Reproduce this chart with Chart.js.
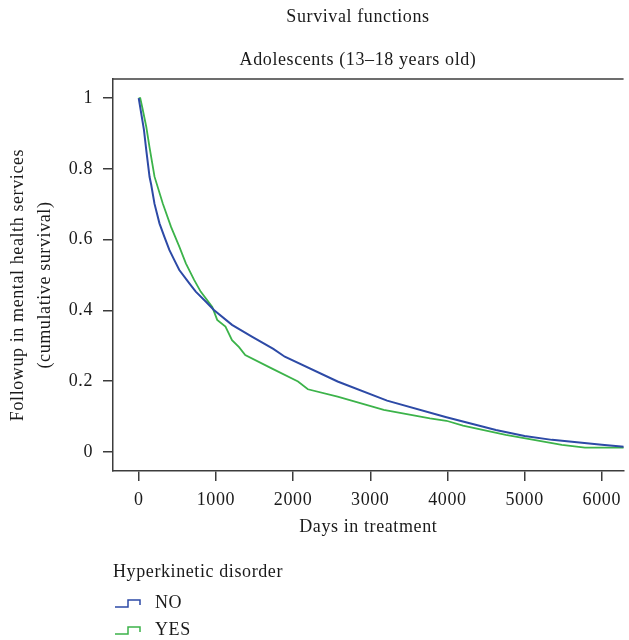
<!DOCTYPE html>
<html>
<head>
<meta charset="utf-8">
<script src="https://cdn.jsdelivr.net/npm/chart.js@4"></script>
<style>
    html, body { margin: 0; padding: 0; background: #fff; overflow: hidden; }
</style>
</head>
<body>
<canvas id="survival_chart" width="629" height="640"></canvas>
<script>
// Chart data
const noDays      = [0, 15, 68, 98, 141, 162, 205, 269, 333, 397, 462, 526, 654, 739, 868, 974, 1209, 1466, 1744, 1893, 2577, 3218, 3987, 4628, 5000, 5355, 6000, 6300];
const noSurvival  = [1.0, 0.98, 0.91, 0.853, 0.777, 0.755, 0.701, 0.646, 0.608, 0.571, 0.542, 0.514, 0.477, 0.453, 0.425, 0.401, 0.359, 0.326, 0.291, 0.269, 0.199, 0.145, 0.098, 0.062, 0.045, 0.034, 0.02, 0.014];

const yesDays     = [0, 20, 50, 98, 141, 205, 312, 419, 526, 611, 718, 803, 953, 1017, 1124, 1209, 1300, 1380, 1722, 2064, 2192, 2577, 3175, 3773, 3987, 4201, 4756, 5483, 5782, 6300];
const yesSurvival = [1.0, 1.0, 0.97, 0.919, 0.86, 0.778, 0.702, 0.636, 0.58, 0.533, 0.486, 0.453, 0.41, 0.373, 0.354, 0.316, 0.296, 0.274, 0.236, 0.199, 0.177, 0.156, 0.119, 0.095, 0.088, 0.074, 0.048, 0.02, 0.012, 0.012];

const groupLabels = ['NO', 'YES'];
const xTicks      = [0, 1000, 2000, 3000, 4000, 5000, 6000];
const yTicks      = [0, 0.2, 0.4, 0.6, 0.8, 1];

const chartTitle    = 'Survival functions';
const chartSubtitle = 'Adolescents (13\u201318 years old)';
const xTitle        = 'Days in treatment';
const yTitle        = ['Followup in mental health services', '(cumulative survival)'];
const legendTitle   = 'Hyperkinetic disorder';

// Styles
const blue      = '#2d4aa6';
const green     = '#3cb34a';
const axisColor = '#3c3c3c';
const textColor = '#1a1a1a';
const fontName  = '"Liberation Serif", "Times New Roman", serif';

const toPoints = ( days, values ) => days.map( ( d, i ) => ( { x: d, y: values[i] } ) );

// the original typeface runs a little wider than Liberation Serif
const spacingPlugin = {
    id: 'spacing',
    beforeLayout( chart ) { chart.ctx.letterSpacing = '0.6px'; },
    beforeDraw( chart ) { chart.ctx.letterSpacing = '0.6px'; }
};

// Titles, top edge of the box and the R-style legend
const annotationsPlugin = {
    id: 'annotations',
    afterDraw( chart ) {
        const ctx  = chart.ctx;
        const area = chart.chartArea;
        ctx.save();

        ctx.strokeStyle = axisColor;
        ctx.lineWidth   = 1.5;
        ctx.beginPath();
        ctx.moveTo( area.left, area.top );
        ctx.lineTo( area.right, area.top );
        ctx.stroke();

        ctx.fillStyle    = textColor;
        ctx.font         = '18px ' + fontName;
        ctx.textAlign    = 'center';
        ctx.textBaseline = 'middle';
        ctx.fillText( chartTitle, 358, 17 );
        ctx.fillText( chartSubtitle, 358, 60 );

        yTitle.forEach( ( line, i ) => {
            ctx.save();
            ctx.translate( 18 + i * 27, 285 );
            ctx.rotate( -Math.PI / 2 );
            ctx.fillText( line, 0, 0 );
            ctx.restore();
        });

        ctx.textAlign = 'left';
        ctx.fillText( legendTitle, 113, 572 );
        chart.data.datasets.forEach( ( ds, i ) => {
            const y = 603 + i * 27;
            ctx.strokeStyle = ds.borderColor;
            ctx.lineWidth   = 1.5;
            ctx.beginPath();
            ctx.moveTo( 115, y + 4 );
            ctx.lineTo( 128, y + 4 );
            ctx.lineTo( 128, y - 3 );
            ctx.lineTo( 140, y - 3 );
            ctx.lineTo( 140, y + 2 );
            ctx.stroke();
            ctx.fillText( ds.label, 155, y );
        });

        ctx.restore();
    }
};

const survivalData = {
    datasets: [{
        label: groupLabels[0],
        data: toPoints( noDays, noSurvival ),
        borderColor: blue,
        borderWidth: 2,
        pointRadius: 0,
        tension: 0
    }, {
        label: groupLabels[1],
        data: toPoints( yesDays, yesSurvival ),
        borderColor: green,
        borderWidth: 1.8,
        pointRadius: 0,
        tension: 0
    }]
};

const survivalConfig = {
    type: 'line',
    data: survivalData,
    plugins: [spacingPlugin, annotationsPlugin],
    options: {
        responsive: false,
        animation: false,
        layout: { padding: { top: 79, right: 0, bottom: 102, left: 0 } },
        plugins: {
            legend: { display: false },
            title: { display: false },
            tooltip: { enabled: false }
        },
        scales: {
            x: {
                type: 'linear',
                min: -333,
                max: 6282,
                afterBuildTicks: ( scale ) => { scale.ticks = xTicks.map( v => ( { value: v } ) ); },
                afterFit: ( scale ) => { scale.height = 67; },
                grid: { drawOnChartArea: false, tickLength: 10, color: axisColor, lineWidth: 1.5 },
                border: { color: axisColor, width: 1.5 },
                ticks: {
                    padding: 8,
                    maxRotation: 0,
                    color: textColor,
                    font: { family: fontName, size: 18 },
                    callback: ( v ) => String( v )
                },
                title: {
                    display: true,
                    text: xTitle,
                    color: textColor,
                    padding: 0,
                    font: { family: fontName, size: 18 }
                }
            },
            y: {
                type: 'linear',
                min: -0.054,
                max: 1.054,
                afterBuildTicks: ( scale ) => { scale.ticks = yTicks.map( v => ( { value: v } ) ); },
                afterFit: ( scale ) => { scale.width = 113; },
                grid: { drawOnChartArea: false, tickLength: 10, color: axisColor, lineWidth: 1.5 },
                border: { color: axisColor, width: 1.5 },
                ticks: {
                    padding: 10,
                    color: textColor,
                    font: { family: fontName, size: 18 },
                    callback: ( v ) => String( Math.round( v * 10 ) / 10 )
                }
            }
        }
    }
};

new Chart( document.getElementById('survival_chart'), survivalConfig );
</script>
</body>
</html>
